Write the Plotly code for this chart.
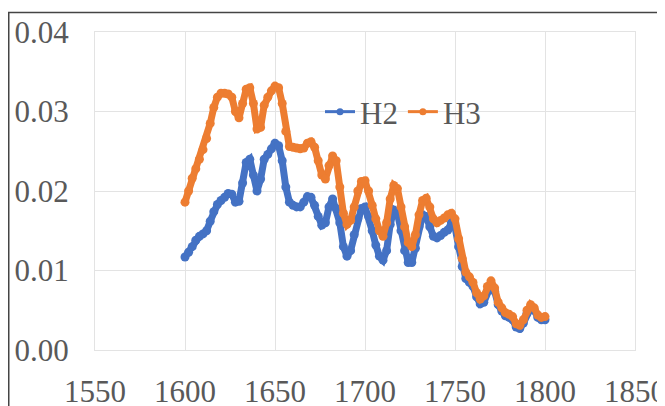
import plotly.graph_objects as go

years = list(range(1600, 1801, 2))

h2 = [0.0117, 0.0123, 0.0130, 0.0138, 0.0143, 0.0146, 0.0150, 0.0162, 0.0174, 0.0183,
      0.0188, 0.0192, 0.0197, 0.0196, 0.0186, 0.0187, 0.0210, 0.0236, 0.0240, 0.0220,
      0.0200, 0.0215, 0.0240, 0.0246, 0.0253, 0.0260, 0.0257, 0.0238, 0.0205, 0.0186,
      0.0182, 0.0180, 0.0180, 0.0186, 0.0193, 0.0192, 0.0182, 0.0168, 0.0157, 0.0160,
      0.0180, 0.0190, 0.0178, 0.0160, 0.0130, 0.0118, 0.0125, 0.0145, 0.0165, 0.0178,
      0.0180, 0.0168, 0.0150, 0.0132, 0.0118, 0.0113, 0.0125, 0.0158, 0.0176, 0.0172,
      0.0150, 0.0125, 0.0110, 0.0110, 0.0128, 0.0155, 0.0170, 0.0168, 0.0155, 0.0143,
      0.0141, 0.0144, 0.0148, 0.0151, 0.0160, 0.0155, 0.0130, 0.0105, 0.0090, 0.0085,
      0.0080, 0.0067, 0.0058, 0.0060, 0.0074, 0.0082, 0.0074, 0.0057, 0.0049, 0.0043,
      0.0041, 0.0038, 0.0029, 0.0027, 0.0034, 0.0046, 0.0053, 0.0050, 0.0041, 0.0038,
      0.0038]

h3 = [0.0186, 0.0200, 0.0216, 0.0228, 0.0240, 0.0252, 0.0266, 0.0285, 0.0305, 0.0318,
      0.0323, 0.0323, 0.0322, 0.0318, 0.0300, 0.0292, 0.0310, 0.0328, 0.0330, 0.0310,
      0.0278, 0.0280, 0.0308, 0.0318, 0.0326, 0.0332, 0.0330, 0.0310, 0.0275, 0.0256,
      0.0255, 0.0254, 0.0253, 0.0254, 0.0260, 0.0262, 0.0255, 0.0238, 0.0220, 0.0215,
      0.0232, 0.0244, 0.0238, 0.0205, 0.0172, 0.0158, 0.0163, 0.0180, 0.0200, 0.0212,
      0.0213, 0.0200, 0.0182, 0.0165, 0.0150, 0.0143, 0.0160, 0.0190, 0.0207, 0.0203,
      0.0180, 0.0155, 0.0135, 0.0130, 0.0145, 0.0170, 0.0188, 0.0191, 0.0180, 0.0165,
      0.0160, 0.0163, 0.0166, 0.0170, 0.0172, 0.0165, 0.0140, 0.0115, 0.0098, 0.0092,
      0.0085, 0.0072, 0.0064, 0.0068, 0.0080, 0.0087, 0.0078, 0.0060, 0.0053, 0.0047,
      0.0045, 0.0042, 0.0033, 0.0031, 0.0038, 0.0050, 0.0057, 0.0053, 0.0044, 0.0041,
      0.0042]

x_ticks = [1550, 1600, 1650, 1700, 1750, 1800, 1850]
y_ticks = [0.00, 0.01, 0.02, 0.03, 0.04]

BLUE = "#4472C4"
ORANGE = "#ED7D31"
TXT = "#595959"
GRID = "#e3e3e3"
FONT = "Times New Roman, Liberation Serif, serif"

fig = go.Figure()
# data traces (legend entries drawn by legend-only traces below)
fig.add_trace(go.Scatter(x=years, y=h2, name="H2", mode="lines+markers", showlegend=False,
                         line=dict(color=BLUE, width=7),
                         marker=dict(color=BLUE, size=9)))
fig.add_trace(go.Scatter(x=years, y=h3, name="H3", mode="lines+markers", showlegend=False,
                         line=dict(color=ORANGE, width=7),
                         marker=dict(color=ORANGE, size=9)))
fig.add_trace(go.Scatter(x=[None], y=[None], name="H2", mode="lines+markers",
                         line=dict(color=BLUE, width=3), marker=dict(color=BLUE, size=7)))
fig.add_trace(go.Scatter(x=[None], y=[None], name="H3", mode="lines+markers",
                         line=dict(color=ORANGE, width=3), marker=dict(color=ORANGE, size=7)))

# page has an 8px body margin: figure coords = page coords - 8
W, H = 657, 398
L, R, T, B = 87, 30, 24, 56
pw, ph = W - L - R, H - T - B

def px(xp):
    return (xp - L) / pw

def py(yp):
    return (H - B - yp) / ph

fig.update_layout(
    width=W, height=H,
    margin=dict(l=L, r=R, t=T, b=B, pad=0, autoexpand=False),
    paper_bgcolor="white", plot_bgcolor="white",
    font=dict(family=FONT, size=31, color=TXT),
    showlegend=True,
    legend=dict(orientation="h", x=px(312), y=py(104), xanchor="left", yanchor="middle",
                bgcolor="rgba(0,0,0,0)", font=dict(family=FONT, size=31, color=TXT),
                itemwidth=30, tracegroupgap=0),
    xaxis=dict(range=[1550, 1850], tickvals=x_ticks, ticktext=[str(v) for v in x_ticks],
               showgrid=True, gridcolor=GRID, gridwidth=1, zeroline=False,
               showline=True, linecolor=GRID, mirror=True, ticks="",
               automargin=False, ticklabeloverflow="allow",
               ticklabelstandoff=14),
    yaxis=dict(range=[0, 0.04], tickvals=y_ticks, ticktext=[f"{v:.2f}" for v in y_ticks],
               showgrid=True, gridcolor=GRID, gridwidth=1, zeroline=False,
               showline=True, linecolor=GRID, mirror=True, ticks="",
               automargin=False, ticklabeloverflow="allow",
               ticklabelstandoff=19),
    shapes=[
        dict(type="line", xref="paper", yref="paper",
             x0=px(0), x1=px(660), y0=py(4.5), y1=py(4.5),
             line=dict(color="#444444", width=1.5)),
        dict(type="line", xref="paper", yref="paper",
             x0=px(0.75), x1=px(0.75), y0=py(4.5), y1=py(402),
             line=dict(color="#444444", width=1.5)),
    ],
)

fig.write_html("out.html")
